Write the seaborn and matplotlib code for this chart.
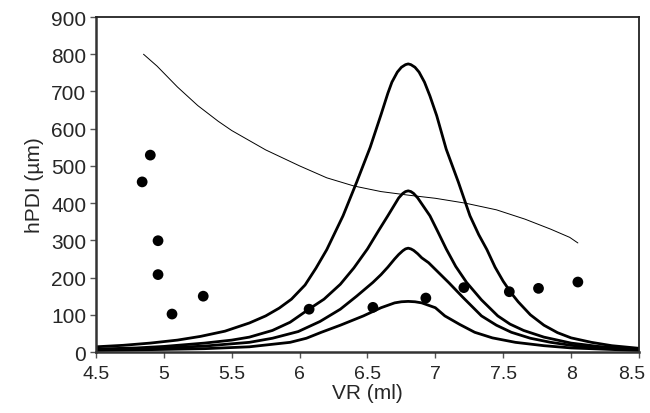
import matplotlib
matplotlib.use("Agg")
import matplotlib.pyplot as plt
import matplotlib.transforms as mtransforms
import seaborn as sns

# Peak curves, tallest to smallest
a_x = [4.5, 4.7, 4.9, 5.1, 5.27, 5.45, 5.63, 5.75, 5.85, 5.94, 6.04, 6.12, 6.2, 6.32, 6.42,
       6.52, 6.6, 6.65, 6.68, 6.72, 6.75, 6.78, 6.8, 6.82, 6.85, 6.88, 6.92, 6.96, 7.01,
       7.08, 7.17, 7.255, 7.32, 7.38, 7.44, 7.5, 7.56, 7.61, 7.7, 7.8, 7.9, 8.0, 8.15,
       8.3, 8.5]
a_y = [14, 18, 24, 32, 42, 56, 78, 97, 118, 142, 180, 225, 275, 366, 456,
       550, 638, 695, 725, 752, 765, 772, 774, 772, 765, 752, 725, 688, 635,
       545, 456, 366, 315, 275, 228, 190, 158, 135, 100, 72, 52, 38, 26,
       17, 10]

b_x = [4.5, 4.8, 5.0, 5.3, 5.5, 5.63, 5.8, 5.93, 6.06, 6.18, 6.3, 6.4, 6.5, 6.58, 6.65,
       6.7, 6.73, 6.76, 6.78, 6.8, 6.82, 6.84, 6.87, 6.9, 6.96, 7.02, 7.08, 7.15, 7.23,
       7.34, 7.46, 7.55, 7.65, 7.8, 8.0, 8.2, 8.5]
b_y = [8, 11, 15, 24, 32, 40, 58, 80, 113, 142, 182, 226, 277, 325, 366,
       396, 414, 426, 431, 433, 431, 426, 414, 398, 366, 322, 277, 230, 187,
       140, 97, 75, 58, 40, 24, 15, 7]

c_x = [4.5, 4.8, 5.0, 5.3, 5.63, 5.8, 5.99, 6.15, 6.3, 6.42, 6.54, 6.6, 6.65, 6.7, 6.73,
       6.76, 6.78, 6.8, 6.82, 6.84, 6.87, 6.9, 6.95, 7.0, 7.05, 7.1, 7.2, 7.34, 7.45,
       7.56, 7.7, 7.85, 8.0, 8.2, 8.5]
c_y = [6, 8, 11, 16, 26, 37, 55, 82, 115, 150, 187, 208, 228, 250, 262,
       272, 277, 279, 277, 273, 264, 253, 240, 222, 204, 186, 148, 97, 72,
       53, 37, 26, 18, 11, 6]

d_x = [4.5, 5.0, 5.3, 5.63, 5.93, 6.05, 6.16, 6.3, 6.47, 6.6, 6.7, 6.75, 6.8, 6.85,
       6.9, 7.0, 7.07, 7.18, 7.29, 7.42, 7.59, 7.8, 8.0, 8.5]
d_y = [4, 7, 9, 14, 26, 37, 53, 72, 97, 119, 132, 135, 136, 135,
       132, 119, 97, 74, 53, 38, 26, 17, 11, 4]

# Thin decreasing line
e_x = [4.85, 4.95, 5.1, 5.25, 5.4, 5.5, 5.75, 6.0, 6.2, 6.4, 6.6, 6.81, 7.0, 7.22, 7.45,
       7.66, 7.85, 7.99, 8.05]
e_y = [800, 768, 712, 662, 620, 595, 543, 500, 468, 446, 431, 421, 413, 400, 382,
       357, 330, 308, 293]

# Measured points
pts_x = [4.84, 4.9, 4.957, 4.957, 5.06, 5.29, 6.07, 6.54, 6.93, 7.21, 7.545, 7.76, 8.05]
pts_y = [457, 529, 299, 208, 102, 150, 115, 120, 145, 173, 162, 171, 188]

sns.set_style("ticks")
plt.rcParams['font.family'] = ['Liberation Sans', 'DejaVu Sans']

fig, ax = plt.subplots(figsize=(6.5, 4.14), dpi=100)
fig.subplots_adjust(left=0.1477, right=0.983, bottom=0.1473, top=0.9565)

for xs, ys in [(a_x, a_y), (b_x, b_y), (c_x, c_y), (d_x, d_y)]:
  sns.lineplot(x=xs, y=ys, color='black', linewidth=2.0, sort=False, ax=ax,
               solid_joinstyle='round')
sns.lineplot(x=e_x, y=e_y, color='black', linewidth=0.7, sort=False, ax=ax)
sns.scatterplot(x=pts_x, y=pts_y, color='black', s=60, edgecolor='none', ax=ax, zorder=5)

ax.set_xlim(4.5, 8.5)
ax.set_ylim(0, 900)
ax.set_xticks([4.5, 5, 5.5, 6, 6.5, 7, 7.5, 8, 8.5])
ax.set_xticklabels(['4.5', '5', '5.5', '6', '6.5', '7', '7.5', '8', '8.5'])
ax.set_yticks(range(0, 901, 100))
ax.tick_params(axis='y', labelsize=15, length=4, width=1, color='#555555', pad=3)
ax.tick_params(axis='x', labelsize=14, length=4, width=1, color='#555555', pad=5)
ax.set_xlabel('VR (ml)', fontsize=15, labelpad=1)
ax.set_ylabel('hPDI (µm)', fontsize=15, labelpad=5)

# keep the last x label inside the figure
last = ax.get_xticklabels()[-1]
last.set_transform(last.get_transform() + mtransforms.ScaledTranslation(-5 / 72, 0, fig.dpi_scale_trans))

for side in ['left', 'bottom']:
  ax.spines[side].set_linewidth(1.8)
  ax.spines[side].set_color('#333333')
for side in ['top', 'right']:
  ax.spines[side].set_visible(True)
  ax.spines[side].set_linewidth(1.3)
  ax.spines[side].set_color('#222222')

fig.savefig('out.png', dpi=100)
